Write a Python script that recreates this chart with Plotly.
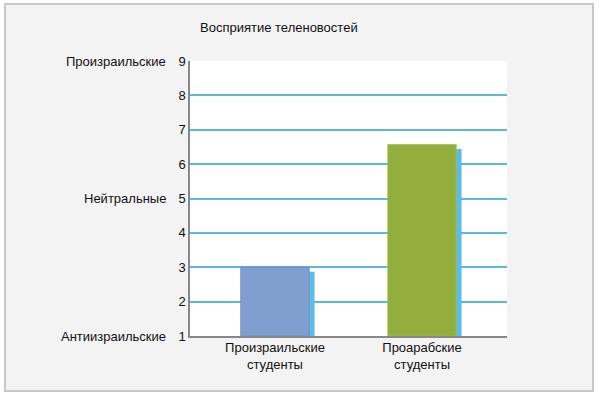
import plotly.graph_objects as go

categories = ["Произраильские<br>студенты", "Проарабские<br>студенты"]
main_values = [3.0, 6.57]
shadow_values = [2.87, 6.44]
bar_colors = ["#809fd0", "#92ae3c"]
y_ticks = [1, 2, 3, 4, 5, 6, 7, 8, 9]
side_labels = {9: "Произраильские", 5: "Нейтральные", 1: "Антиизраильские"}
title_text = "Восприятие теленовостей"

W, H = 600, 398
L, R, T, B = 190, 93, 61, 62
pw, ph = W - L - R, H - T - B

def px_x(p):
    return (p - L) / pw

def px_y(p):
    return (H - B - p) / ph

FONT = "Liberation Sans, Arial, sans-serif"

fig = go.Figure()
fig.add_trace(go.Bar(
    x=[0, 1], y=[v - 1 for v in shadow_values], base=1,
    width=0.466, offset=-0.233 + 0.036,
    marker=dict(color="#5bbde6", line=dict(width=0)),
    hoverinfo="skip", showlegend=False,
))
fig.add_trace(go.Bar(
    x=[0, 1], y=[v - 1 for v in main_values], base=1,
    width=0.466, offset=-0.233,
    marker=dict(color=bar_colors, line=dict(width=0.8, color=["#6d88b8", "#a4be52"])),
    showlegend=False,
))

shapes = [
    dict(type="rect", xref="paper", yref="paper",
         x0=px_x(5), x1=px_x(593), y0=px_y(391), y1=px_y(4),
         fillcolor="#f3f3f3", line=dict(color="#c8c8c8", width=2), layer="below"),
    dict(type="rect", xref="paper", yref="paper", x0=0, x1=1, y0=0, y1=1,
         fillcolor="#ffffff", line=dict(width=0), layer="below"),
]

annotations = [
    dict(text=title_text, xref="paper", yref="paper", x=px_x(279), y=px_y(27),
         xanchor="center", yanchor="middle", showarrow=False,
         font=dict(family=FONT, size=13, color="#111111")),
]
for v, t in side_labels.items():
    annotations.append(dict(text=t, xref="paper", yref="y", x=px_x(168), y=v,
                            xanchor="right", yanchor="middle", showarrow=False,
                            font=dict(family=FONT, size=13, color="#111111")))

fig.update_layout(
    width=W, height=H,
    margin=dict(l=L, r=R, t=T, b=B, pad=0),
    paper_bgcolor="#ffffff", plot_bgcolor="#ffffff",
    barmode="overlay",
    shapes=shapes, annotations=annotations,
    xaxis=dict(range=[-0.578, 1.578], tickvals=[0, 1], ticktext=categories,
               showgrid=False, zeroline=False, showline=True, linecolor="#888888",
               linewidth=2, ticks="", ticklabelstandoff=-2,
               tickfont=dict(family=FONT, size=13, color="#111111"),
               fixedrange=True),
    yaxis=dict(range=[1, 9], tickvals=y_ticks, ticktext=[str(v) for v in y_ticks],
               showgrid=True, gridcolor="#5cb8e0", gridwidth=1.5, zeroline=False,
               showline=True, linecolor="#888888", linewidth=1.5, ticks="",
               tickfont=dict(family=FONT, size=13, color="#111111"), fixedrange=True),
)

fig.write_html("out.html", config={"displayModeBar": False},
               post_script="document.body.style.margin='0';document.body.style.overflow='hidden';")
